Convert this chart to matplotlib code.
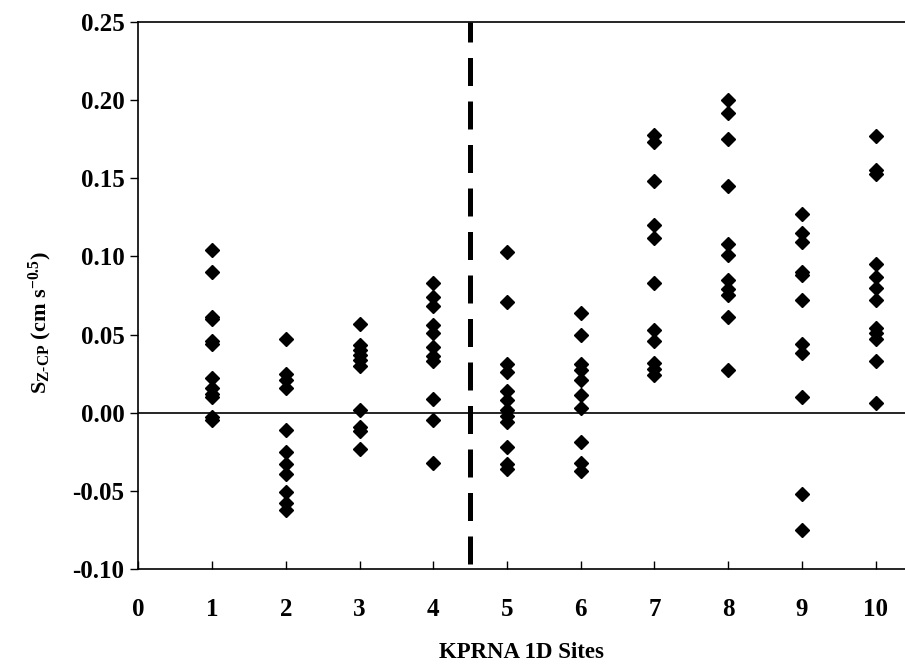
import matplotlib
matplotlib.use("Agg")
import matplotlib.pyplot as plt

plt.rcParams['font.family'] = ['Liberation Serif', 'DejaVu Serif']
plt.rcParams['font.weight'] = 'bold'
plt.rcParams['mathtext.fontset'] = 'custom'
plt.rcParams['mathtext.rm'] = 'Liberation Serif:bold'
plt.rcParams['mathtext.it'] = 'Liberation Serif:bold'
plt.rcParams['mathtext.bf'] = 'Liberation Serif:bold'

# Sz-CP values per site (cm s^-0.5)
site1 = [0.104, 0.090, 0.061, 0.060, 0.046, 0.044, 0.022, 0.016, 0.012, 0.010, -0.003, -0.005]
site2 = [0.047, 0.025, 0.021, 0.016, -0.011, -0.025, -0.033, -0.039, -0.051, -0.058, -0.062]
site3 = [0.057, 0.043, 0.040, 0.037, 0.034, 0.030, 0.002, -0.009, -0.012, -0.023]
site4 = [0.083, 0.074, 0.068, 0.056, 0.051, 0.042, 0.036, 0.033, 0.009, -0.005, -0.032]
site5 = [0.103, 0.071, 0.031, 0.026, 0.014, 0.008, 0.002, -0.002, -0.006, -0.022, -0.033, -0.036]
site6 = [0.064, 0.050, 0.031, 0.027, 0.021, 0.011, 0.003, -0.019, -0.032, -0.037]
site7 = [0.178, 0.173, 0.148, 0.120, 0.112, 0.083, 0.053, 0.046, 0.032, 0.028, 0.024]
site8 = [0.200, 0.192, 0.175, 0.145, 0.108, 0.101, 0.085, 0.079, 0.075, 0.061, 0.027]
site9 = [0.127, 0.115, 0.109, 0.090, 0.088, 0.072, 0.044, 0.038, 0.010, -0.052, -0.075]
site10 = [0.177, 0.155, 0.153, 0.095, 0.087, 0.080, 0.072, 0.054, 0.051, 0.047, 0.033, 0.006]

sites = [site1, site2, site3, site4, site5, site6, site7, site8, site9, site10]
site_ids = list(range(1, 11))
split_at = 4.5

fig = plt.figure(figsize=(9.05, 6.67), dpi=100)
ax = fig.add_axes([0.153, 0.147, 0.847, 0.820])

for sid, vals in zip(site_ids, sites):
    ax.plot([sid] * len(vals), vals, 'D', color='black', markersize=7, linestyle='none', zorder=3)

ax.axhline(0, color='black', linewidth=1.2, zorder=2)
# dashed divider, drawn from the top down
ax.plot([split_at, split_at], [0.25, -0.10], color='black', linewidth=3.6,
        linestyle=(1.6, (5.6, 3.1)), solid_capstyle='butt', zorder=2)

ax.set_xlim(0, 10.4)
ax.set_ylim(-0.10, 0.25)
ax.set_xticks(range(0, 11))
ax.set_yticks([-0.10, -0.05, 0.00, 0.05, 0.10, 0.15, 0.20, 0.25])
ax.set_yticklabels(["%.2f" % v for v in ax.get_yticks()])

ax.tick_params(axis='y', direction='out', length=6, width=1, pad=4, labelsize=18)
ax.tick_params(axis='x', direction='in', length=6, width=1, pad=21, labelsize=18)

ax.spines['right'].set_visible(False)
for s in ['left', 'bottom', 'top']:
    ax.spines[s].set_linewidth(1.2)

ax.set_xlabel('KPRNA 1D Sites', fontsize=16.5, fontweight='bold', labelpad=15)
ax.set_ylabel(r'S$_{\mathrm{Z\text{-}CP}}$ (cm s$^{\mathrm{-0.5}}$)', fontsize=16, fontweight='bold')
ax.yaxis.set_label_coords(-0.11, 0.45)

fig.savefig('out.png', dpi=100)
